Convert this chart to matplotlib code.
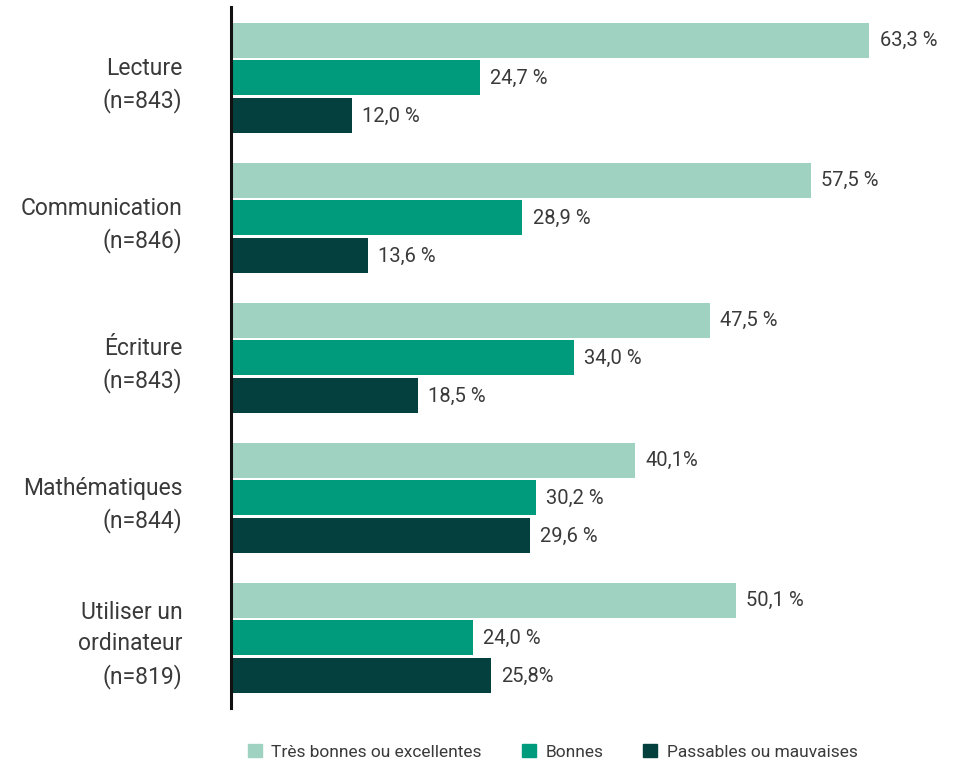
import numpy as np
import matplotlib.pyplot as plt
from matplotlib.patches import Patch

plt.rcParams['font.family'] = ['Roboto', 'DejaVu Sans']

categories = ["Lecture\n(n=843)", "Communication\n(n=846)", "Écriture\n(n=843)",
              "Mathématiques\n(n=844)", "Utiliser un\nordinateur\n(n=819)"]
series_names = ["Très bonnes ou excellentes", "Bonnes", "Passables ou mauvaises"]
tres_bonnes = [63.3, 57.5, 47.5, 40.1, 50.1]
bonnes = [24.7, 28.9, 34.0, 30.2, 24.0]
passables = [12.0, 13.6, 18.5, 29.6, 25.8]
labels = [
    ["63,3 %", "57,5 %", "47,5 %", "40,1%", "50,1 %"],
    ["24,7 %", "28,9 %", "34,0 %", "30,2 %", "24,0 %"],
    ["12,0 %", "13,6 %", "18,5 %", "29,6 %", "25,8%"],
]
colors = ["#9fd2c0", "#009a7c", "#03403e"]
text_color = "#3a3a3a"

W, H = 963, 767
fig = plt.figure(figsize=(W / 100, H / 100), dpi=100)
ax = fig.add_axes([231 / W, 1 - 708 / H, 706 / W, 701 / H])

y = np.arange(len(categories))
offset = 0.271
height = 0.25
for i, vals in enumerate([tres_bonnes, bonnes, passables]):
    pos = y + (i - 1) * offset
    ax.barh(pos, vals, height=height, color=colors[i], label=series_names[i])
    for p, v, lab in zip(pos, vals, labels[i]):
        ax.text(v + 1.0, p, lab, va='center', ha='left', fontsize=14.5,
                color=text_color)

ax.set_ylim(4.5, -0.507)
ax.set_xlim(0, 70)
ax.set_yticks(y)
ax.set_yticklabels(categories, fontsize=16.5, color=text_color, linespacing=1.45)
ax.tick_params(axis='y', length=0, pad=35)
ax.set_xticks([])
for s in ['top', 'right', 'bottom']:
    ax.spines[s].set_visible(False)
ax.spines['left'].set_linewidth(2.2)
ax.spines['left'].set_color('#111111')

handles = [Patch(color=c) for c in colors]
leg = fig.legend(handles, series_names, loc='center', bbox_to_anchor=(0.574, 0.0196),
                 ncol=3, frameon=False, handlelength=0.8, handleheight=0.8,
                 columnspacing=2.3, handletextpad=0.55, prop={'size': 12.5})
for t in leg.get_texts():
    t.set_color(text_color)

fig.savefig("out.png", dpi=100)
